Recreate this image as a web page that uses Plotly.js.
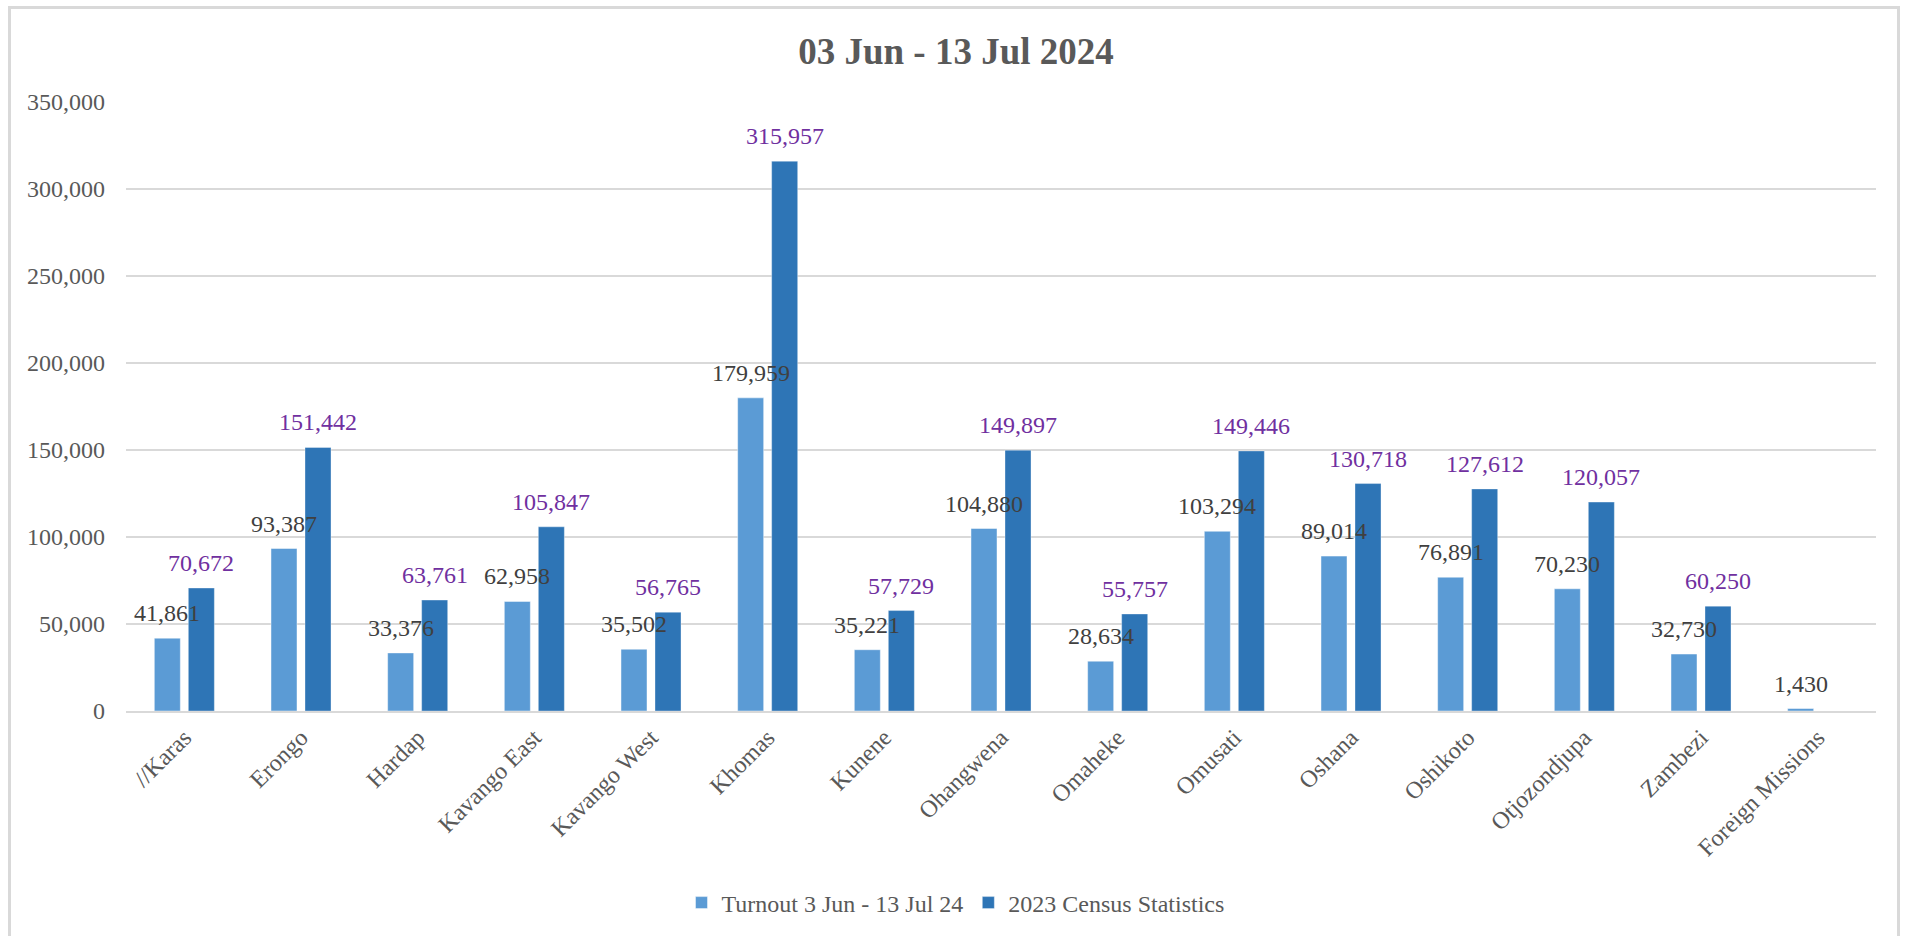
<!DOCTYPE html>
<html>
<head>
<meta charset="utf-8">
<script src="https://cdn.plot.ly/plotly-3.0.1.min.js"></script>
<style>
  html, body { margin: 0; padding: 0; background: #ffffff; overflow: hidden; }
  #wrap { position: relative; width: 1905px; height: 936px; }
  #chart { position: absolute; left: 0; top: 0; width: 1905px; height: 936px; }
  #frame { position: absolute; left: 8px; top: 6px; width: 1892px; height: 940px;
           border: 3px solid #D9D9D9; box-sizing: border-box; pointer-events: none; }
</style>
</head>
<body>
<div id="wrap">
  <div id="chart"></div>
  <div id="frame"></div>
</div>
<script>
// ---- data ----
const regions = ["//Karas", "Erongo", "Hardap", "Kavango East", "Kavango West", "Khomas",
  "Kunene", "Ohangwena", "Omaheke", "Omusati", "Oshana", "Oshikoto", "Otjozondjupa",
  "Zambezi", "Foreign Missions"];
const turnout = [41861, 93387, 33376, 62958, 35502, 179959, 35221, 104880, 28634,
  103294, 89014, 76891, 70230, 32730, 1430];
const census = [70672, 151442, 63761, 105847, 56765, 315957, 57729, 149897, 55757,
  149446, 130718, 127612, 120057, 60250, null];
const seriesNames = ["Turnout 3 Jun - 13 Jul 24", "2023 Census Statistics"];
const chartTitle = "03 Jun - 13 Jul 2024";
const yTicks = [0, 50000, 100000, 150000, 200000, 250000, 300000, 350000];

// ---- styles ----
const FONT = "Liberation Serif, Times New Roman, serif";
const LIGHT = "#5B9BD5";
const DARK = "#2E75B6";
const fmt = v => v.toLocaleString("en-US");

const traces = [
  {
    type: "bar", name: seriesNames[0], x: regions, y: turnout,
    marker: { color: LIGHT, line: { color: "rgba(255,255,255,0.45)", width: 1 } },
    hoverinfo: "x+y"
  },
  {
    type: "bar", name: seriesNames[1], x: regions, y: census,
    marker: { color: DARK, line: { color: "rgba(255,255,255,0.35)", width: 1 } },
    hoverinfo: "x+y"
  }
];

const annotations = [];
regions.forEach((r, i) => {
  if (turnout[i] != null) {
    annotations.push({
      x: r, y: turnout[i], xref: "x", yref: "y", text: fmt(turnout[i]),
      showarrow: false, xshift: -17, yshift: 25, yanchor: "middle", xanchor: "center",
      font: { family: FONT, size: 24, color: "#404040" }
    });
  }
  if (census[i] != null) {
    annotations.push({
      x: r, y: census[i], xref: "x", yref: "y", text: fmt(census[i]),
      showarrow: false, xshift: 17, yshift: 25, yanchor: "middle", xanchor: "center",
      font: { family: FONT, size: 24, color: "#7030A0" }
    });
  }
});

const layout = {
  width: 1905, height: 936,
  paper_bgcolor: "rgba(0,0,0,0)", plot_bgcolor: "rgba(0,0,0,0)",
  margin: { l: 126, r: 29, t: 102, b: 224 },
  title: {
    text: "<b>" + chartTitle + "</b>",
    font: { family: FONT, size: 37, color: "#595959" },
    x: 956 / 1905, xref: "container", xanchor: "center",
    y: 1 - 51 / 936, yref: "container", yanchor: "middle"
  },
  barmode: "group", bargap: 0.417, bargroupgap: 0.235,
  font: { family: FONT, size: 24, color: "#595959" },
  xaxis: {
    type: "category", tickangle: -45, showgrid: false, zeroline: false,
    showline: true, linecolor: "#D9D9D9", linewidth: 2, ticks: "",
    ticklabelstandoff: 1,
    tickfont: { family: FONT, size: 24, color: "#595959" }
  },
  yaxis: {
    range: [0, 350000], tickvals: yTicks, ticktext: yTicks.map(fmt),
    showgrid: true, gridcolor: "#D9D9D9", gridwidth: 1.5,
    zeroline: false, showline: false, ticks: "", ticklabelstandoff: 20,
    tickfont: { family: FONT, size: 24, color: "#595959" }
  },
  showlegend: true,
  legend: {
    orientation: "h", x: 0.474, xanchor: "center", y: (712 - 903) / 610, yanchor: "middle",
    font: { family: FONT, size: 24, color: "#595959" }, itemwidth: 30,
    bgcolor: "rgba(0,0,0,0)"
  },
  annotations: annotations
};

Plotly.newPlot("chart", traces, layout, { displayModeBar: false, staticPlot: true });
</script>
</body>
</html>
